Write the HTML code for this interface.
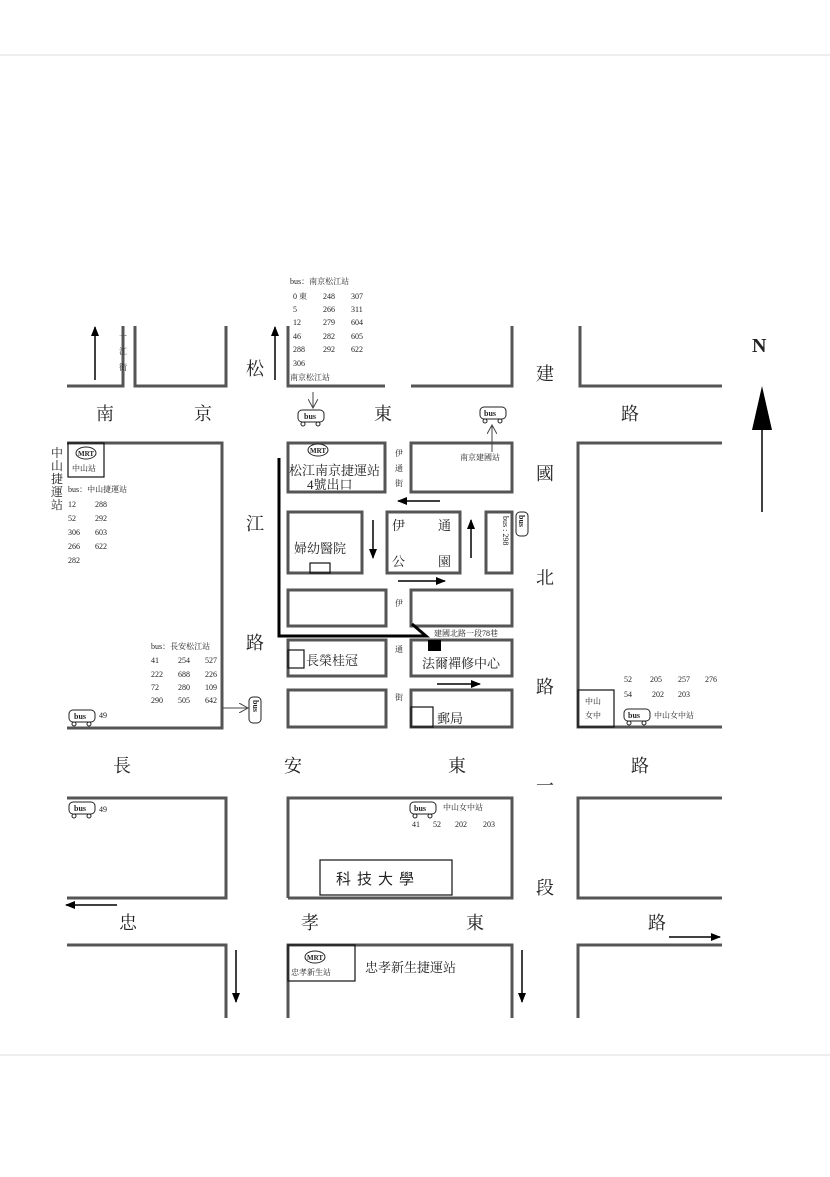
<!DOCTYPE html>
<html><head><meta charset="utf-8"><style>
html,body{margin:0;padding:0;background:#fff;}
svg{display:block;}
text{font-family:"Liberation Serif","Noto Serif CJK SC","Noto Sans CJK TC",serif;fill:#222;}
.s{font-family:"Liberation Sans","Noto Sans CJK TC",sans-serif;}
</style></head><body>
<svg width="830" height="1177" viewBox="0 0 830 1177" xmlns="http://www.w3.org/2000/svg">
<defs>
<marker id="ah" markerWidth="10" markerHeight="8" refX="9" refY="4" orient="auto" markerUnits="userSpaceOnUse"><path d="M0,0 L10,4 L0,8 Z" fill="#000"/></marker>
<marker id="oa" markerWidth="10" markerHeight="10" refX="9" refY="5" orient="auto" markerUnits="userSpaceOnUse"><path d="M0,0 L9,5 L0,10" fill="none" stroke="#444"/></marker>
</defs>
<line x1="0" y1="55" x2="830" y2="55" stroke="#ddd"/>
<line x1="0" y1="1055" x2="830" y2="1055" stroke="#ddd"/>
<g fill="none" stroke="#555" stroke-width="3">
<polyline points="67,386 123,386 123,326"/>
<polyline points="135,326 135,386 226,386 226,326"/>
<polyline points="288,326 288,386 385,386"/>
<polyline points="411,386 512,386 512,326"/>
<polyline points="580,326 580,386 722,386"/>
<polyline points="67,443 222,443 222,728 67,728"/>
<rect x="288" y="443" width="97" height="49"/>
<rect x="411" y="443" width="101" height="49"/>
<rect x="288" y="512" width="74" height="61"/>
<rect x="387" y="512" width="73" height="61"/>
<rect x="486" y="512" width="26" height="61"/>
<rect x="288" y="590" width="98" height="36"/>
<rect x="411" y="590" width="101" height="36"/>
<rect x="288" y="640" width="98" height="36"/>
<rect x="411" y="640" width="101" height="36"/>
<rect x="288" y="690" width="98" height="37"/>
<rect x="411" y="690" width="101" height="37"/>
<polyline points="722,443 578,443 578,727 722,727"/>
<polyline points="67,798 226,798 226,898 67,898"/>
<polyline points="288,898 288,798 512,798 512,898 288,898"/>
<polyline points="722,798 578,798 578,898 722,898"/>
<polyline points="67,945 226,945 226,1018"/>
<polyline points="288,1018 288,945 512,945 512,1018"/>
<polyline points="578,1018 578,945 722,945"/>
</g>
<g fill="none" stroke="#111" stroke-width="1.2">
<rect x="68" y="443" width="36" height="34"/>
<rect x="320" y="860" width="132" height="35"/>
<rect x="288" y="945" width="67" height="36"/>
<rect x="578" y="690" width="36" height="37"/>
<rect x="310" y="563" width="20" height="10"/>
<rect x="288" y="650" width="16" height="18"/>
<rect x="411" y="707" width="22" height="20"/>
</g>
<polyline points="279,458 279,636 426,636 412,624" fill="none" stroke="#000" stroke-width="3"/>
<rect x="428" y="640" width="13" height="11" fill="#000"/>
<g stroke="#000" stroke-width="1.5">
<line x1="95" y1="380" x2="95" y2="327" marker-end="url(#ah)"/>
<line x1="275" y1="380" x2="275" y2="327" marker-end="url(#ah)"/>
<line x1="440" y1="501" x2="398" y2="501" marker-end="url(#ah)"/>
<line x1="373" y1="520" x2="373" y2="558" marker-end="url(#ah)"/>
<line x1="471" y1="558" x2="471" y2="520" marker-end="url(#ah)"/>
<line x1="398" y1="581" x2="445" y2="581" marker-end="url(#ah)"/>
<line x1="437" y1="684" x2="480" y2="684" marker-end="url(#ah)"/>
<line x1="117" y1="905" x2="66" y2="905" marker-end="url(#ah)"/>
<line x1="669" y1="937" x2="720" y2="937" marker-end="url(#ah)"/>
<line x1="236" y1="950" x2="236" y2="1002" marker-end="url(#ah)"/>
<line x1="522" y1="950" x2="522" y2="1002" marker-end="url(#ah)"/>
<line x1="762" y1="512" x2="762" y2="420"/>
</g>
<polygon points="762,386 752,430 772,430" fill="#000"/>
<g stroke="#444" stroke-width="1">
<line x1="313" y1="392" x2="313" y2="408" marker-end="url(#oa)"/>
<line x1="492" y1="452" x2="492" y2="425" marker-end="url(#oa)"/>
<line x1="222" y1="708" x2="248" y2="708" marker-end="url(#oa)"/>
</g>
<g fill="#fff" stroke="#222" stroke-width="1">
<rect x="298" y="410" width="26" height="12" rx="4"/><circle cx="303" cy="424" r="2"/><circle cx="318" cy="424" r="2"/>
<rect x="480" y="407" width="26" height="12" rx="4"/><circle cx="485" cy="421" r="2"/><circle cx="500" cy="421" r="2"/>
<rect x="69" y="710" width="26" height="12" rx="4"/><circle cx="74" cy="724" r="2"/><circle cx="89" cy="724" r="2"/>
<rect x="69" y="802" width="26" height="12" rx="4"/><circle cx="74" cy="816" r="2"/><circle cx="89" cy="816" r="2"/>
<rect x="410" y="802" width="26" height="12" rx="4"/><circle cx="415" cy="816" r="2"/><circle cx="430" cy="816" r="2"/>
<rect x="624" y="709" width="26" height="12" rx="4"/><circle cx="629" cy="723" r="2"/><circle cx="644" cy="723" r="2"/>
<rect x="249" y="697" width="12" height="26" rx="4"/>
<rect x="516" y="512" width="12" height="24" rx="4"/>
<ellipse cx="318" cy="450" rx="10" ry="6"/>
<ellipse cx="86" cy="453" rx="10" ry="6"/>
<ellipse cx="315" cy="957" rx="10" ry="6"/>
</g>
<g class="s" font-size="8" font-weight="bold">
<text x="304" y="419">bus</text><text x="484" y="416">bus</text><text x="74" y="719">bus</text><text x="74" y="811">bus</text><text x="414" y="811">bus</text><text x="628" y="718">bus</text>
<text x="310" y="453" font-size="7">MRT</text><text x="78" y="456" font-size="7">MRT</text><text x="307" y="960" font-size="7">MRT</text>
<text transform="translate(253,700) rotate(90)">bus</text>
<text transform="translate(519,515) rotate(90)">bus</text>
<text transform="translate(503,516) rotate(90)" font-weight="normal">bus : 298</text>
</g>
<g font-size="18">
<text x="96" y="420">南</text><text x="194" y="420">京</text><text x="374" y="420">東</text><text x="621" y="420">路</text>
<text x="536" y="380">建</text><text x="536" y="480">國</text><text x="536" y="584">北</text><text x="536" y="693">路</text><text x="536" y="792">一</text><text x="536" y="894">段</text>
<text x="246" y="375">松</text><text x="246" y="530">江</text><text x="246" y="649">路</text>
<text x="113" y="772">長</text><text x="284" y="772">安</text><text x="448" y="772">東</text><text x="631" y="772">路</text>
<text x="119" y="929">忠</text><text x="301" y="929">孝</text><text x="466" y="929">東</text><text x="648" y="929">路</text>
</g>
<text x="752" y="352" font-size="20" font-weight="bold">N</text>
<g class="s" font-size="8">
<text x="290" y="284">bus：南京松江站</text>
<text x="293" y="299">0 東</text><text x="323" y="299">248</text><text x="351" y="299">307</text>
<text x="293" y="312">5</text><text x="323" y="312">266</text><text x="351" y="312">311</text>
<text x="293" y="325">12</text><text x="323" y="325">279</text><text x="351" y="325">604</text>
<text x="293" y="339">46</text><text x="323" y="339">282</text><text x="351" y="339">605</text>
<text x="293" y="352">288</text><text x="323" y="352">292</text><text x="351" y="352">622</text>
<text x="293" y="366">306</text><text x="290" y="380">南京松江站</text>
<text x="119" y="339">一</text><text x="119" y="354">江</text><text x="119" y="370">街</text>
<text x="460" y="460">南京建國站</text>
<text x="395" y="456">伊</text><text x="395" y="471">通</text><text x="395" y="486">街</text>
<text x="395" y="606">伊</text><text x="395" y="652">通</text><text x="395" y="700">街</text>
<text x="72" y="471">中山站</text>
<text x="68" y="492">bus：中山捷運站</text>
<text x="68" y="507">12</text><text x="95" y="507">288</text>
<text x="68" y="521">52</text><text x="95" y="521">292</text>
<text x="68" y="535">306</text><text x="95" y="535">603</text>
<text x="68" y="549">266</text><text x="95" y="549">622</text>
<text x="68" y="563">282</text>
<text x="151" y="649">bus：長安松江站</text>
<text x="151" y="663">41</text><text x="178" y="663">254</text><text x="205" y="663">527</text>
<text x="151" y="677">222</text><text x="178" y="677">688</text><text x="205" y="677">226</text>
<text x="151" y="690">72</text><text x="178" y="690">280</text><text x="205" y="690">109</text>
<text x="151" y="703">290</text><text x="178" y="703">505</text><text x="205" y="703">642</text>
<text x="99" y="718">49</text><text x="99" y="812">49</text>
<text x="434" y="636">建國北路一段78巷</text>
<text x="624" y="682">52</text><text x="650" y="682">205</text><text x="678" y="682">257</text><text x="705" y="682">276</text>
<text x="624" y="697">54</text><text x="652" y="697">202</text><text x="678" y="697">203</text>
<text x="585" y="704">中山</text><text x="585" y="718">女中</text>
<text x="654" y="718">中山女中站</text>
<text x="443" y="810">中山女中站</text>
<text x="412" y="827">41</text><text x="433" y="827">52</text><text x="455" y="827">202</text><text x="483" y="827">203</text>
<text x="291" y="975">忠孝新生站</text>
</g>
<g class="s" font-size="12">
<text x="51" y="457">中</text><text x="51" y="470">山</text><text x="51" y="483">捷</text><text x="51" y="496">運</text><text x="51" y="509">站</text>
</g>
<g class="s" font-size="13">
<text x="289" y="475">松江南京捷運站</text>
<text x="307" y="489">4號出口</text>
<text x="392" y="530">伊</text><text x="438" y="530">通</text>
<text x="392" y="566">公</text><text x="438" y="566">園</text>
<text x="294" y="553">婦幼醫院</text>
<text x="306" y="665">長榮桂冠</text>
<text x="422" y="668">法爾禪修中心</text>
<text x="437" y="723">郵局</text>
<text x="365" y="972">忠孝新生捷運站</text>
</g>
<text x="336" y="884" font-size="15" class="s" letter-spacing="6">科技大學</text>
</svg>
</body></html>
